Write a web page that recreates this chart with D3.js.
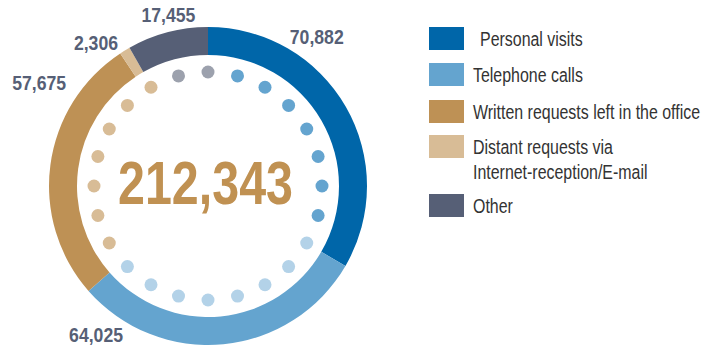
<!DOCTYPE html>
<html>
<head>
<meta charset="utf-8">
<script src="https://cdn.jsdelivr.net/npm/d3@7"></script>
<style>
  body { margin: 0; background: #fff; }
  svg text { font-family: "Liberation Sans", Arial, sans-serif; }
</style>
</head>
<body>
<div id="chart"></div>
<script>
// appeal channels, clockwise from 12 o'clock
var categories = ["Personal visits", "Telephone calls", "Written requests left in the office",
                  "Distant requests via\nInternet-reception/E-mail", "Other"];
var values = [70882, 64025, 57675, 2306, 17455];
var total = 212343;

// the ring of dots inside: how many of each colour, clockwise from 15 degrees
var dotGroups = ["blue", "lightblue", "tan", "grey"];
var dotCounts = [7, 8, 7, 2];

var colors = ["#0066a9", "#64a4cf", "#be9155", "#d8bc96", "#565f76"];
var dotColors = { blue: "#64a4cf", lightblue: "#b3d2e8", tan: "#d8bc96", grey: "#9ca1ad" };

// where each value label sits (degrees clockwise from top, distance from centre)
var labelPos = [[36, 185], [217, 186], [301.5, 198], [322, 182], [347, 176]];

var W = 710, H = 347;
var cx = 208, cy = 186;
var rOuter = 159, rInner = 131;

var svg = d3.select("#chart").append("svg")
    .attr("width", W)
    .attr("height", H);

// no condensed font here, so squeeze a normal one sideways
function squeeze(samples, size, weight, target) {
  var w = 0;
  samples.forEach(function(s) {
    var t = svg.append("text").attr("font-size", size).attr("font-weight", weight).text(s);
    w += t.node().getComputedTextLength();
    t.remove();
  });
  return target / w;
}
var legendLines = [];
categories.forEach(function(c) { legendLines = legendLines.concat(c.split("\n")); });
var kLegend = squeeze(legendLines, 21, "normal", 795);
var kNum = squeeze(["17,455"], 21, "bold", 54);
var kBig = squeeze(["212,343"], 62, "bold", 175);

var g = svg.append("g").attr("transform", "translate(" + cx + "," + cy + ")");

var pie = d3.pie().sort(null).value(function(d) { return d; });
var arcs = pie(values);
var arc = d3.arc().innerRadius(rInner).outerRadius(rOuter);

g.selectAll("path.seg")
  .data(arcs)
  .enter().append("path")
    .attr("class", "seg")
    .attr("d", arc)
    .attr("fill", function(d, i) { return colors[i]; });

// dots
var dots = [];
dotGroups.forEach(function(k, i) {
  for (var j = 0; j < dotCounts[i]; j++) dots.push(k);
});
var nDots = dots.length;
var angle = d3.scaleLinear().domain([0, nDots]).range([Math.PI * 2 / nDots, Math.PI * 2 + Math.PI * 2 / nDots]);
var rDots = 114;

g.selectAll("circle.dot")
  .data(dots)
  .enter().append("circle")
    .attr("class", "dot")
    .attr("cx", function(d, i) { return rDots * Math.sin(angle(i)); })
    .attr("cy", function(d, i) { return -rDots * Math.cos(angle(i)); })
    .attr("r", 6.5)
    .attr("fill", function(d) { return dotColors[d]; });

var fmt = d3.format(",");

// value labels
g.selectAll("text.val")
  .data(values)
  .enter().append("text")
    .attr("class", "val")
    .attr("transform", function(d, i) {
      var a = labelPos[i][0] * Math.PI / 180, r = labelPos[i][1];
      return "translate(" + (r * Math.sin(a)) + "," + (-r * Math.cos(a)) + ") scale(" + kNum + ",1)";
    })
    .attr("dy", "0.36em")
    .attr("text-anchor", "middle")
    .attr("font-size", 21)
    .attr("font-weight", "bold")
    .attr("fill", "#565f76")
    .text(function(d) { return fmt(d); });

// total in the middle
g.append("text")
    .attr("transform", "translate(-2.5,-4) scale(" + kBig + ",1)")
    .attr("dy", "0.36em")
    .attr("text-anchor", "middle")
    .attr("font-size", 62)
    .attr("font-weight", "bold")
    .attr("fill", "#c09152")
    .text(fmt(total));

// legend
var legendY = [27, 63, 100, 135, 194];
var legend = svg.append("g").attr("transform", "translate(429,0)");
var item = legend.selectAll("g.item")
  .data(categories)
  .enter().append("g")
    .attr("class", "item")
    .attr("transform", function(d, i) { return "translate(0," + legendY[i] + ")"; });

item.append("rect")
    .attr("width", 35)
    .attr("height", 23)
    .attr("fill", function(d, i) { return colors[i]; });

item.append("text")
    .attr("transform", function(d, i) { return "translate(" + (i === 0 ? 51 : 44) + ",19) scale(" + kLegend + ",1)"; })
    .attr("font-size", 21)
    .attr("fill", "#333")
    .each(function(d) {
      var t = d3.select(this);
      d.split("\n").forEach(function(line, k) {
        t.append("tspan")
          .attr("x", 0)
          .attr("dy", k === 0 ? 0 : 25)
          .text(line);
      });
    });
</script>
</body>
</html>
